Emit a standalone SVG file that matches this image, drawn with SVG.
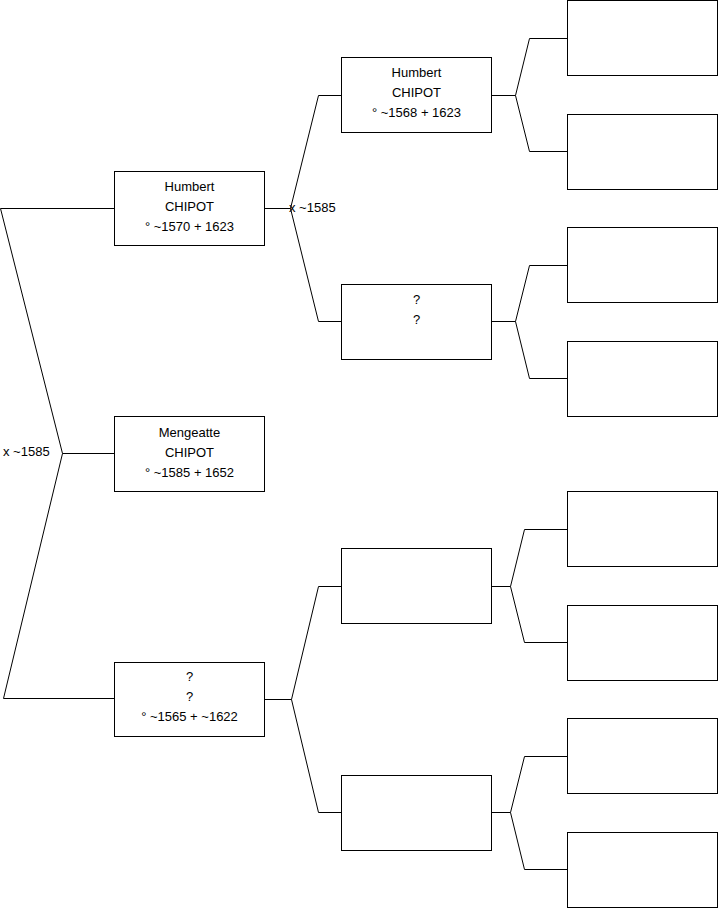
<svg xmlns="http://www.w3.org/2000/svg" width="719" height="908" viewBox="0 0 719 908">
<style>
.box{fill:#fff;stroke:#000;stroke-width:1}
.ln{fill:none;stroke:#000;stroke-width:1}
text{font-family:"Liberation Sans",Arial,sans-serif;font-size:13px;fill:#000}
.c{text-anchor:middle}
</style>
<rect width="719" height="908" fill="#fff"/>
<g id="connectors">
<path class="ln" d="M0.5,208.5 H114 M0.5,208.5 L62.5,453.5 L3.5,698.5 H114 M62.5,453.5 H114"/>
<path class="ln" d="M265,208.5 H290.5 M318.5,95.5 L290.5,208.5 L318.5,321.5 M318.5,95.5 H341 M318.5,321.5 H341"/>
<path class="ln" d="M492,95.5 H515.5 M529.5,38.5 L515.5,95.5 L529.5,151.5 M529.5,38.5 H567 M529.5,151.5 H567"/>
<path class="ln" d="M492,321.5 H515.5 M529.5,265.5 L515.5,321.5 L529.5,378.5 M529.5,265.5 H567 M529.5,378.5 H567"/>
<path class="ln" d="M265,699.5 H291.5 M318.5,586.5 L291.5,699.5 L318.5,812.5 M318.5,586.5 H341 M318.5,812.5 H341"/>
<path class="ln" d="M492,586.5 H510.5 M524.5,529.5 L510.5,586.5 L524.5,642.5 M524.5,529.5 H567 M524.5,642.5 H567"/>
<path class="ln" d="M492,812.5 H510.5 M524.5,756.5 L510.5,812.5 L524.5,869.5 M524.5,756.5 H567 M524.5,869.5 H567"/>
<text x="3" y="456">x ~1585</text>
<text x="289" y="212">x ~1585</text>
</g>
<g id="humbert1570">
<rect class="box" x="114.5" y="171.5" width="150" height="74"/>
<text class="c" x="189.5" y="191">Humbert</text>
<text class="c" x="189.5" y="211">CHIPOT</text>
<text class="c" x="189.5" y="231">° ~1570 + 1623</text>
</g>
<g id="mengeatte">
<rect class="box" x="114.5" y="416.5" width="150" height="75"/>
<text class="c" x="189.5" y="437">Mengeatte</text>
<text class="c" x="189.5" y="457">CHIPOT</text>
<text class="c" x="189.5" y="477">° ~1585 + 1652</text>
</g>
<g id="unknown1565">
<rect class="box" x="114.5" y="662.5" width="150" height="74"/>
<text class="c" x="189.5" y="681">?</text>
<text class="c" x="189.5" y="701">?</text>
<text class="c" x="189.5" y="721">° ~1565 + ~1622</text>
</g>
<g id="humbert1568">
<rect class="box" x="341.5" y="57.5" width="150" height="75"/>
<text class="c" x="416.5" y="77">Humbert</text>
<text class="c" x="416.5" y="97">CHIPOT</text>
<text class="c" x="416.5" y="117">° ~1568 + 1623</text>
</g>
<g id="unknownA">
<rect class="box" x="341.5" y="284.5" width="150" height="75"/>
<text class="c" x="416.5" y="304">?</text>
<text class="c" x="416.5" y="324">?</text>
</g>
<g id="emptyB"><rect class="box" x="341.5" y="548.5" width="150" height="75"/></g>
<g id="emptyC"><rect class="box" x="341.5" y="775.5" width="150" height="75"/></g>
<g id="g3a"><rect class="box" x="567.5" y="0.5" width="150" height="75"/></g>
<g id="g3b"><rect class="box" x="567.5" y="114.5" width="150" height="75"/></g>
<g id="g3c"><rect class="box" x="567.5" y="227.5" width="150" height="75"/></g>
<g id="g3d"><rect class="box" x="567.5" y="341.5" width="150" height="75"/></g>
<g id="g3e"><rect class="box" x="567.5" y="491.5" width="150" height="75"/></g>
<g id="g3f"><rect class="box" x="567.5" y="605.5" width="150" height="75"/></g>
<g id="g3g"><rect class="box" x="567.5" y="718.5" width="150" height="75"/></g>
<g id="g3h"><rect class="box" x="567.5" y="832.5" width="150" height="75"/></g>
</svg>
